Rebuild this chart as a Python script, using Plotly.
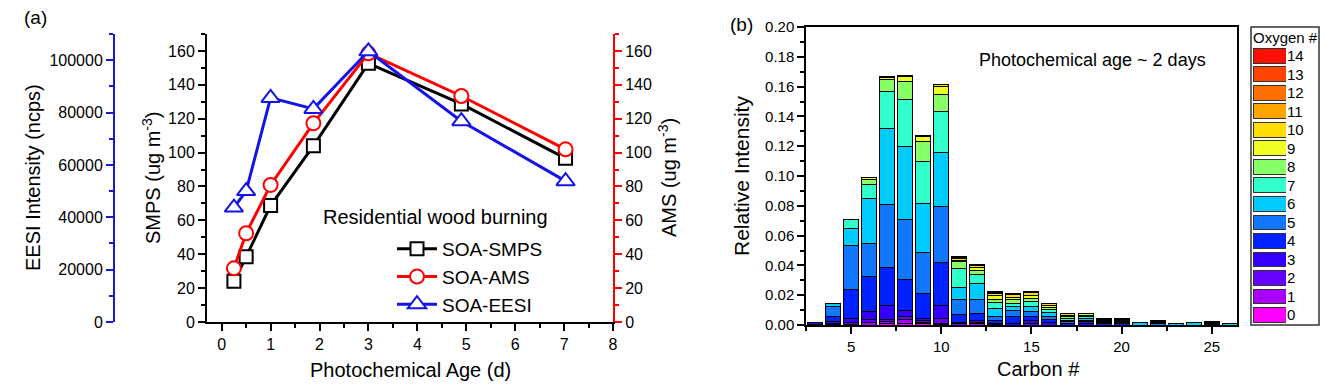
import plotly.graph_objects as go

# page body adds an 8 px margin around the figure, so the figure is sized to fit
VIEW_W, VIEW_H, OFF = 1334, 390, 8
W, H = VIEW_W - 2 * OFF, VIEW_H - 2 * OFF
FONT = "Liberation Sans, Arial, sans-serif"

# ---------------- Panel (a) data ----------------
age = [0.25, 0.5, 1.0, 1.875, 3.0, 4.9, 7.03]
soa_smps = [24, 38.5, 68.7, 104, 152.7, 128.7, 96.6]
soa_ams = [31.7, 52.4, 80.9, 117.3, 158.6, 133.4, 101.9]
soa_eesi = [43700, 50000, 85600, 81400, 103400, 76700, 53800]

# ---------------- Panel (b) data ----------------
carbons = list(range(3, 27))
#       C3   C4     C5     C6     C7     C8     C9     C10    C11    C12    C13    C14    C15    C16    C17    C18    C19    C20    C21    C22    C23    C24    C25    C26
o0  = [0,   0,     0,     0,     0.001, 0.001, 0.0008,0.0005,0,     0,     0,     0,     0,     0,     0,     0,     0,     0,     0,     0,     0,     0,     0,     0]
o1  = [0,   0.0005,0.0005,0.0015,0.0012,0.0024,0.001, 0.0008,0,     0.0008,0,     0,     0,     0,     0,     0,     0,     0,     0,     0,     0,     0,     0,     0]
o2  = [0,   0.0005,0.001, 0.002, 0.0016,0.0022,0.0012,0.003, 0.0008,0.001, 0.0006,0,     0.0013,0,     0,     0,     0,     0,     0,     0,     0,     0,     0,     0]
o3  = [0.0005,0.0012,0.003,0.0054,0.0096,0.0044,0.0015,0.0085,0.0012,0.0011,0.0005,0.0011,0.0014,0.0016,0,  0.001, 0,     0,     0,     0,     0,     0,     0,     0]
o4  = [0.001,0.0033,0.019,0.0235,0.0253,0.0205,0.0168,0.029, 0.0048,0.0049,0.0016,0.0045,0.0029,0.0022,0.0011,0.0012,0.0008,0.0008,0,    0,     0,     0,     0,     0]
o5  = [0,   0.0072,0.030, 0.0224,0.0423,0.040, 0.0272,0.0376,0.0105,0.0094,0.0033,0.004, 0.0033,0.0022,0.0011,0.001, 0.0008,0.0008,0,     0.0007,0,     0,     0.0006,0]
o6  = [0,   0.0014,0.0114,0.0298,0.051, 0.049, 0.0332,0.0365,0.008, 0.0108,0.0052,0.0027,0.0034,0.0023,0.0011,0.0012,0.0008,0.0009,0.0016,0.0008,0.0013,0.0016,0.0007,0.0009]
o7  = [0,   0,     0.006, 0.010, 0.025, 0.032, 0.0283,0.0273,0.0127,0.0056,0.0038,0.0022,0.0034,0.0018,0.0011,0.0012,0.0007,0.0007,0,     0.0007,0,     0,     0.0006,0]
o8  = [0,   0,     0,     0.0032,0.0079,0.0118,0.013, 0.0116,0.0046,0.0033,0.0022,0.0023,0.0022,0.0018,0.0011,0.001, 0.0006,0.0006,0,     0.0007,0,     0,     0.0006,0]
o9  = [0,   0,     0,     0.0011,0.0012,0.0033,0.0034,0.0052,0.001, 0.002, 0.0023,0.0018,0.0016,0.0015,0.0011,0.0008,0.0006,0.0005,0,     0,     0,     0,     0,     0]
o10 = [0,   0,     0,     0,     0.0006,0.0007,0.0006,0.0015,0.0012,0.001, 0.0018,0.0018,0.0022,0.0011,0.0008,0.0004,0,     0,     0,     0,     0,     0,     0,     0]
o11 = [0,   0,     0,     0,     0,     0,     0,     0,     0.0005,0.0006,0.0008,0.0009,0.0011,0,     0,     0,     0,     0,     0,     0,     0,     0,     0,     0]
o12 = [0,   0,     0,     0,     0,     0,     0,     0,     0.0005,0.0003,0.0003,0,     0,     0,     0,     0,     0,     0,     0,     0,     0,     0,     0,     0]
o13 = [0] * 24
o14 = [0] * 24

oxygen_series = [o0, o1, o2, o3, o4, o5, o6, o7, o8, o9, o10, o11, o12, o13, o14]
oxygen_labels = [str(i) for i in range(15)]
oxygen_colors = ["#ff00ff", "#aa00ff", "#6600ff", "#3300ff", "#0022ff",
                 "#1177ff", "#00ccff", "#33ffcc", "#88ff66", "#eeff22",
                 "#ffdd00", "#ffa500", "#ff7000", "#ff4500", "#ff1000"]

BLACK = "#000000"
RED = "#ff0000"
BLUE = "#1414e6"
AXBLUE = "#1a1acc"


def fx(p):
    """screen pixel x -> paper fraction"""
    return (p - OFF) / W


def fy(p):
    """screen pixel y -> paper fraction"""
    return 1 - (p - OFF) / H


fig = go.Figure()

# ---------------- Panel (a) traces ----------------
fig.add_trace(go.Scatter(
    x=age, y=soa_smps, name="SOA-SMPS", mode="lines+markers",
    line=dict(color=BLACK, width=3),
    marker=dict(symbol="square", size=13, color="white", line=dict(color=BLACK, width=2)),
    xaxis="x", yaxis="y"))
fig.add_trace(go.Scatter(
    x=age, y=soa_ams, name="SOA-AMS", mode="lines+markers",
    line=dict(color=RED, width=3),
    marker=dict(symbol="circle", size=14, color="white", line=dict(color=RED, width=2)),
    xaxis="x", yaxis="y2"))
fig.add_trace(go.Scatter(
    x=age, y=soa_eesi, name="SOA-EESI", mode="lines+markers",
    line=dict(color=BLUE, width=3),
    marker=dict(symbol="triangle-up", size=16, color="white", line=dict(color=BLUE, width=2)),
    xaxis="x", yaxis="y3"))

# ---------------- Panel (b) stacked bars ----------------
for lab, vals, col in zip(oxygen_labels, oxygen_series, oxygen_colors):
    fig.add_trace(go.Bar(
        x=carbons, y=[v if v else None for v in vals], name=lab, width=0.83,
        marker=dict(color=col, line=dict(color=BLACK, width=1)),
        xaxis="x2", yaxis="y4", showlegend=False))

# legend swatches for panel (b) drawn as a small bar axis
fig.add_trace(go.Bar(
    x=[1] * 15, y=list(range(15)), orientation="h", width=0.8,
    marker=dict(color=oxygen_colors, line=dict(color="#333333", width=1)),
    xaxis="x3", yaxis="y5", showlegend=False, hoverinfo="skip"))

tick_common = dict(showgrid=False, zeroline=False, ticks="outside", ticklen=7, tickwidth=1.5,
                   showline=True, linewidth=2, automargin=False)

fig.update_layout(
    width=W, height=H,
    margin=dict(l=0, r=0, t=0, b=0, autoexpand=False),
    paper_bgcolor="white", plot_bgcolor="rgba(0,0,0,0)",
    font=dict(family=FONT, color=BLACK, size=16),
    barmode="stack", bargap=0.1,
    showlegend=True,
    legend=dict(x=fx(392), y=fy(230), xanchor="left", yanchor="top",
                traceorder="normal",
                font=dict(size=19, family=FONT), bgcolor="rgba(0,0,0,0)",
                tracegroupgap=0, itemwidth=40),
    xaxis=dict(domain=[fx(207), fx(613)], anchor="y", range=[-0.3, 8.0],
               tickmode="linear", tick0=0, dtick=1, linecolor=BLACK, tickcolor=BLACK,
               minor=dict(dtick=0.5, ticklen=4, tickcolor=BLACK, ticks="outside"),
               tickfont=dict(size=16), **tick_common),
    yaxis=dict(domain=[fy(322), fy(34)], anchor="x", range=[0, 170],
               tickmode="linear", tick0=0, dtick=20, linecolor=BLACK, tickcolor=BLACK,
               minor=dict(dtick=10, ticklen=4, tickcolor=BLACK, ticks="outside"),
               tickfont=dict(size=16), **tick_common),
    yaxis2=dict(overlaying="y", anchor="x", side="right", range=[0, 170],
                tickmode="linear", tick0=0, dtick=20, linecolor=RED, tickcolor=RED,
                minor=dict(dtick=10, ticklen=4, tickcolor=RED, ticks="outside"),
                tickfont=dict(size=16, color=BLACK), **tick_common),
    yaxis3=dict(overlaying="y", anchor="free", position=fx(114), side="left",
                range=[0, 110000], tickmode="linear", tick0=0, dtick=20000, tickformat="d",
                linecolor=AXBLUE, tickcolor=AXBLUE,
                minor=dict(dtick=10000, ticklen=4, tickcolor=AXBLUE, ticks="outside"),
                tickfont=dict(size=16, color=BLACK), **tick_common),
    xaxis2=dict(domain=[fx(806), fx(1237)], anchor="y4", range=[2.5, 26.4],
                tickmode="linear", tick0=0, dtick=5, linecolor=BLACK, tickcolor=BLACK,
                mirror=True, minor=dict(dtick=2.5, ticklen=4, tickcolor=BLACK, ticks="outside"),
                tickfont=dict(size=15), showgrid=False, zeroline=False, ticks="outside",
                ticklen=7, tickwidth=1.5, showline=True, linewidth=1.5, automargin=False),
    yaxis4=dict(domain=[fy(325), fy(27)], anchor="x2", range=[0, 0.2],
                tickmode="linear", tick0=0, dtick=0.02, tickformat=".2f",
                linecolor=BLACK, tickcolor=BLACK, mirror=True,
                minor=dict(dtick=0.01, ticklen=4, tickcolor=BLACK, ticks="outside"),
                tickfont=dict(size=15), showgrid=False, zeroline=False, ticks="outside",
                ticklen=7, tickwidth=1.5, showline=True, linewidth=1.5, automargin=False),
    xaxis3=dict(domain=[fx(1253), fx(1286)], anchor="y5", range=[0, 1], visible=False,
                automargin=False),
    yaxis5=dict(domain=[fy(324.3), fy(46.5)], anchor="x3", range=[-0.5, 14.5],
                tickmode="array", tickvals=list(range(15)), ticktext=oxygen_labels,
                side="right", showline=False, ticks="", showgrid=False, zeroline=False,
                tickfont=dict(size=15), automargin=False),
)

# legend box of panel (b)
fig.add_shape(type="rect", xref="paper", yref="paper",
              x0=fx(1251), x1=fx(1319), y0=fy(325), y1=fy(27),
              line=dict(color="#333333", width=1.5))

ann = [
    dict(text="(a)", x=fx(35), y=fy(18), size=19),
    dict(text="(b)", x=fx(741), y=fy(25), size=19),
    dict(text="EESI Intensity (ncps)", x=fx(33), y=fy(178), size=20, angle=-90),
    dict(text="SMPS (ug m<sup>-3</sup>)", x=fx(151), y=fy(178), size=20, angle=-90),
    dict(text="AMS (ug m<sup>-3</sup>)", x=fx(667), y=fy(178), size=20, angle=-90),
    dict(text="Photochemical Age (d)", x=fx(410), y=fy(370), size=20),
    dict(text="Residential wood burning", x=fx(436), y=fy(217), size=20),
    dict(text="Relative Intensity", x=fx(741), y=fy(176), size=21, angle=-90),
    dict(text="Carbon #", x=fx(1038), y=fy(369), size=20),
    dict(text="Photochemical age ~ 2 days", x=fx(1092), y=fy(60), size=18),
    dict(text="Oxygen #", x=fx(1285), y=fy(38), size=15),
]
for a in ann:
    fig.add_annotation(text=a["text"], x=a["x"], y=a["y"], xref="paper", yref="paper",
                       xanchor="center", yanchor="middle", showarrow=False,
                       textangle=a.get("angle", 0),
                       font=dict(size=a["size"], family=FONT, color=BLACK))

fig.write_html("out.html")
